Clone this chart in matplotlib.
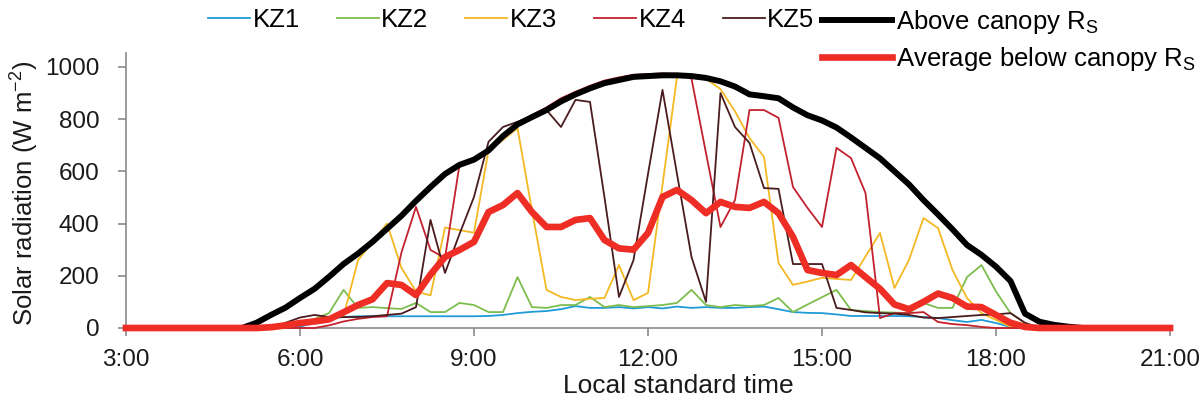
import numpy as np
import matplotlib
matplotlib.use("Agg")
import matplotlib.pyplot as plt
from matplotlib.lines import Line2D

plt.rcParams["font.family"] = ["Liberation Sans", "DejaVu Sans"]
plt.rcParams["mathtext.fontset"] = "custom"
plt.rcParams["mathtext.rm"] = "Liberation Sans"
plt.rcParams["mathtext.it"] = "Liberation Sans:italic"

# 15-min steps, 3:00 -> 21:00 (one row per 3 hours)
times = np.arange(3, 21.01, 0.25)

kz1 = [0, 0, 0, 0, 0, 0, 0, 0, 0, 0, 0, 0,
       5, 20, 35, 42, 45, 45, 45, 45, 45, 45, 45, 45,
       45, 46, 50, 57, 62, 65, 72, 84, 77, 77, 80, 75,
       80, 75, 82, 77, 80, 77, 77, 80, 82, 72, 61, 58,
       57, 52, 46, 46, 46, 46, 45, 42, 38, 30, 23, 31,
       19, 4, 0, 0, 0, 0, 0, 0, 0, 0, 0, 0,
       0]
kz2 = [0, 0, 0, 0, 0, 0, 0, 0, 0, 0, 0, 0,
       15, 35, 57, 146, 77, 80, 76, 73, 96, 61, 61, 96,
       88, 61, 61, 195, 80, 77, 88, 88, 119, 80, 88, 80,
       84, 88, 96, 146, 88, 80, 88, 84, 88, 115, 61, 90,
       118, 146, 69, 65, 61, 59, 57, 96, 77, 77, 195, 241,
       140, 57, 19, 0, 0, 0, 0, 0, 0, 0, 0, 0,
       0]
kz3 = [0, 0, 0, 0, 0, 0, 0, 0, 0, 0, 0, 0,
       20, 35, 40, 45, 260, 330, 400, 230, 140, 125, 385, 375,
       365, 680, 720, 766, 450, 146, 119, 107, 112, 115, 241, 107,
       134, 548, 962, 962, 955, 915, 830, 728, 655, 249, 165, 178,
       192, 188, 184, 274, 364, 153, 261, 421, 383, 222, 115, 57,
       31, 5, 0, 0, 0, 0, 0, 0, 0, 0, 0, 0,
       0]
kz4 = [0, 0, 0, 0, 0, 0, 0, 0, 0, 0, 0, 0,
       0, 0, 10, 25, 35, 42, 45, 290, 464, 299, 268, 625,
       650, 685, 740, 785, 815, 845, 880, 905, 928, 948, 960, 970,
       973, 975, 973, 955, 670, 387, 490, 835, 835, 805, 540, 460,
       387, 690, 651, 517, 38, 57, 57, 61, 23, 15, 11, 4,
       0, 0, 0, 0, 0, 0, 0, 0, 0, 0, 0, 0,
       0]
kz5 = [0, 0, 0, 0, 0, 0, 0, 0, 0, 0, 0, 20,
       40, 50, 42, 42, 42, 45, 50, 55, 80, 414, 211, 360,
       502, 713, 770, 790, 810, 835, 770, 874, 866, 500, 119, 260,
       590, 912, 590, 272, 100, 900, 770, 709, 536, 533, 245, 245,
       245, 77, 69, 60, 57, 55, 50, 40, 38, 42, 46, 50,
       52, 57, 20, 0, 0, 0, 0, 0, 0, 0, 0, 0,
       0]
above = [0, 0, 0, 0, 0, 0, 0, 0, 0, 20, 50, 78,
         115, 150, 196, 245, 285, 330, 380, 430, 487, 540, 590, 625,
         645, 680, 735, 780, 808, 835, 868, 895, 918, 938, 950, 962,
         965, 968, 968, 965, 958, 945, 925, 895, 888, 880, 845, 815,
         795, 768, 730, 690, 650, 600, 550, 490, 435, 378, 318, 280,
         235, 180, 55, 24, 12, 5, 0, 0, 0, 0, 0, 0,
         0]
average = [0, 0, 0, 0, 0, 0, 0, 0, 0, 0, 3, 10,
           19, 25, 33, 60, 88, 110, 172, 165, 126, 205, 272, 299,
           330, 444, 471, 517, 444, 387, 387, 414, 421, 337, 305, 300,
           364, 502, 529, 490, 440, 483, 464, 460, 483, 440, 349, 222,
           211, 203, 241, 195, 150, 90, 72, 100, 132, 115, 82, 80,
           50, 20, 4, 0, 0, 0, 0, 0, 0, 0, 0, 0,
           0]

kz_names = ["KZ1", "KZ2", "KZ3", "KZ4", "KZ5"]
kz_colors = ["#1f9bd8", "#7dbd4e", "#f4b823", "#c4212f", "#4a1c1f"]
tick_hours = [3, 6, 9, 12, 15, 18, 21]

W, H = 1203, 404
fig = plt.figure(figsize=(W / 100, H / 100), dpi=100)
ax = fig.add_axes([126 / W, 76 / H, 1044 / W, 275.4 / H])

for vals, col in zip([kz1, kz2, kz3, kz4, kz5], kz_colors):
    ax.plot(times, vals, color=col, lw=1.3, clip_on=False, zorder=2)
ax.plot(times, above, color="black", lw=4.3, clip_on=False, zorder=3,
        solid_joinstyle="round")
ax.plot(times, average, color="#ee2d24", lw=4.8, clip_on=False, zorder=4,
        solid_joinstyle="round")

ax.set_xlim(3, 21)
ax.set_ylim(0, 1055)
ax.set_xticks(tick_hours)
ax.set_xticklabels([f"{h}:00" for h in tick_hours])
ax.set_yticks(range(0, 1001, 200))

for side in ["top", "right"]:
    ax.spines[side].set_visible(False)
for side in ["left", "bottom"]:
    ax.spines[side].set_color("#8a8a8a")
    ax.spines[side].set_linewidth(1.2)
    ax.spines[side].set_zorder(1)

ax.tick_params(axis="both", direction="out", length=6, width=1.2,
               color="#8a8a8a", labelsize=17.5, labelcolor="#1a1a1a")
ax.tick_params(axis="y", pad=13)
ax.tick_params(axis="x", pad=9)

ax.set_ylabel(r"Solar radiation (W m$^\mathregular{-2}$)", fontsize=18.5, color="#1a1a1a")
ax.yaxis.set_label_coords(-0.081, 0.49)
ax.set_xlabel("Local standard time", fontsize=19, color="#1a1a1a")
ax.xaxis.set_label_coords(0.529, -0.168)

kz_handles = [Line2D([], [], color=c, lw=1.3) for c in kz_colors]
fig.legend(kz_handles, kz_names, loc="upper left", bbox_to_anchor=(208 / W, 0.979),
           ncol=5, frameon=False, fontsize=18.5, handlelength=1.63,
           handletextpad=0.1, columnspacing=1.44, borderpad=0, borderaxespad=0)

big_handles = [Line2D([], [], color="black", lw=4.3),
               Line2D([], [], color="#ee2d24", lw=4.8)]
big_labels = [r"Above canopy R$_\mathregular{S}$", r"Average below canopy R$_\mathregular{S}$"]
fig.legend(big_handles, big_labels, loc="upper left", bbox_to_anchor=(822 / W, 0.979),
           ncol=1, frameon=False, fontsize=18.5, handlelength=2.72,
           handletextpad=0.15, labelspacing=0.35, borderpad=0, borderaxespad=0)

fig.savefig("out.png", dpi=100)
